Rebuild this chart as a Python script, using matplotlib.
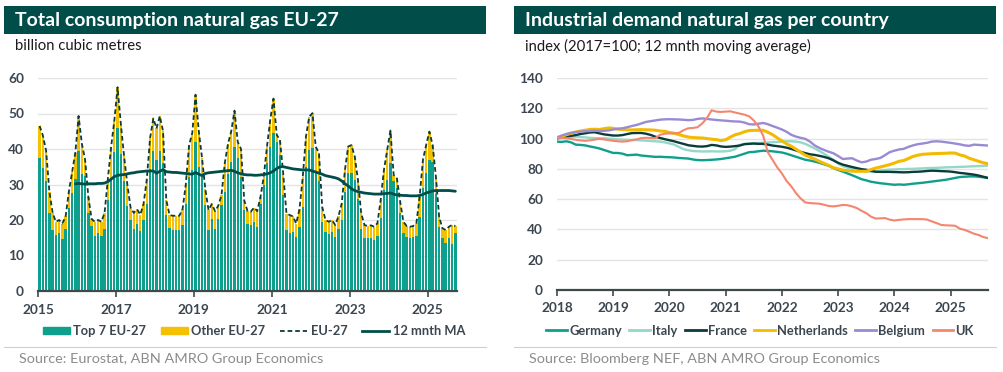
import numpy as np
import matplotlib.pyplot as plt
from matplotlib.patches import Rectangle, Patch
from matplotlib.lines import Line2D

plt.rcParams['font.family'] = ['Lato', 'DejaVu Sans']

# ---- left chart: monthly gas consumption EU-27, Jan 2015 - Sep 2025 (bcm)
eu27_total = [
    46.5, 43.8, 39.5, 28.0, 22.0, 19.5, 20.0, 19.0, 21.0, 28.0, 33.5, 39.0,   # 2015
    49.3, 41.5, 37.0, 26.5, 20.3, 19.5, 20.0, 19.5, 22.0, 31.5, 40.5, 48.0,   # 2016
    57.4, 47.0, 38.0, 30.0, 23.5, 22.0, 23.0, 21.5, 24.5, 31.5, 43.0, 48.6,   # 2017
    45.8, 49.3, 45.0, 25.6, 21.4, 21.2, 21.2, 21.2, 23.0, 30.0, 41.0, 44.5,   # 2018
    55.3, 45.0, 37.5, 28.8, 22.8, 24.5, 22.5, 24.0, 27.0, 36.0, 41.5, 45.0,   # 2019
    50.8, 42.0, 40.0, 25.5, 22.5, 22.3, 23.5, 22.5, 26.5, 32.2, 40.7, 48.2,   # 2020
    54.2, 44.0, 42.5, 33.0, 21.8, 21.4, 21.0, 19.0, 23.0, 32.0, 43.5, 49.1,   # 2021
    50.1, 40.7, 38.8, 23.7, 20.0, 19.5, 20.0, 18.6, 21.0, 24.6, 34.1, 40.7,   # 2022
    41.1, 37.9, 31.3, 21.9, 18.6, 18.3, 18.5, 18.1, 19.1, 25.6, 34.1, 39.7,   # 2023
    45.2, 32.7, 31.7, 25.2, 19.5, 18.3, 18.1, 18.3, 19.1, 26.6, 36.9, 41.1,   # 2024
    44.9, 41.1, 32.2, 20.9, 17.7, 17.2, 18.1, 18.6, 18.3,                     # 2025
]
top7 = [
    37.4, 34.6, 31.0, 22.0, 17.2, 15.8, 16.2, 14.6, 17.4, 23.5, 27.5, 31.5,
    39.4, 33.0, 32.5, 22.0, 18.2, 15.6, 16.2, 15.6, 17.5, 25.6, 31.5, 39.2,
    46.0, 38.5, 31.0, 24.0, 20.0, 17.5, 19.0, 17.0, 20.0, 24.5, 34.5, 39.5,
    37.0, 39.5, 36.0, 21.5, 17.8, 17.2, 17.2, 17.2, 18.5, 24.5, 32.2, 34.1,
    42.0, 35.0, 32.0, 24.2, 17.3, 20.2, 17.6, 20.2, 24.2, 28.0, 33.0, 36.4,
    40.5, 37.4, 32.2, 22.8, 19.0, 18.5, 19.5, 18.0, 24.5, 30.0, 36.0, 40.5,
    44.5, 42.0, 38.3, 27.0, 17.2, 16.3, 16.7, 15.3, 18.1, 23.7, 35.0, 39.7,
    40.2, 33.5, 31.0, 19.5, 16.5, 16.0, 16.5, 15.3, 17.5, 20.0, 28.0, 33.1,
    33.1, 31.3, 26.0, 17.5, 15.0, 14.8, 15.0, 14.5, 15.5, 20.5, 28.4, 31.3,
    36.0, 31.0, 29.0, 21.9, 16.3, 15.3, 14.8, 15.3, 15.5, 20.9, 28.9, 33.1,
    36.9, 36.4, 27.2, 18.1, 14.8, 13.4, 14.8, 13.2, 16.3,
]
# 12 month moving average, Dec 2015 - Sep 2025
ma12 = [
    30.2, 30.3, 30.2, 30.1, 30.2, 30.2, 30.2, 30.3, 30.3, 30.4, 30.8, 31.5, 32.2,
    32.6, 32.7, 32.8, 33.0, 33.2, 33.3, 33.5, 33.6, 33.7, 33.8, 33.8, 33.8,
    33.2, 33.7, 34.2, 33.6, 33.5, 33.4, 33.4, 33.3, 33.2, 33.1, 33.0, 32.9,
    33.4, 32.9, 32.5, 33.1, 33.3, 33.4, 33.5, 33.6, 33.7, 33.8, 33.9, 34.0,
    33.7, 33.3, 33.0, 32.8, 32.7, 32.7, 32.6, 32.6, 32.7, 32.8, 33.0, 33.3,
    33.8, 34.5, 35.0, 35.0, 34.8, 34.6, 34.4, 34.3, 34.2, 34.1, 34.1, 34.1,
    33.8, 33.5, 33.2, 32.9, 32.5, 32.3, 32.1, 31.9, 31.6, 31.0, 30.2, 29.6,
    28.8, 28.3, 28.0, 27.8, 27.6, 27.5, 27.4, 27.3, 27.3, 27.3, 27.4, 27.5,
    27.6, 27.3, 27.0, 27.0, 26.9, 26.9, 26.8, 26.8, 26.8, 26.9, 27.2, 27.6,
    27.9, 28.2, 28.3, 28.3, 28.3, 28.3, 28.3, 28.2, 28.1,
]
left_years = ['2015', '2017', '2019', '2021', '2023', '2025']

# ---- right chart: industrial demand index, Jan 2018 - Sep 2025
countries = ['Germany', 'Italy', 'France', 'Netherlands', 'Belgium', 'UK']
germany = [
    98.0, 97.8, 98.2, 97.5, 96.0, 95.8, 95.5, 94.8, 94.2, 93.5, 92.5, 91.5,
    90.5, 90.5, 90.0, 89.0, 89.2, 89.4, 88.8, 88.5, 88.2, 87.9, 88.0, 87.8,
    87.7, 87.5, 87.2, 87.0, 86.8, 86.2, 85.8, 85.7, 85.8, 86.0, 86.2, 86.5,
    87.0, 87.5, 88.0, 89.0, 90.0, 91.0, 91.2, 91.6, 92.0, 91.8, 91.6, 91.2,
    90.8, 90.0, 89.0, 88.0, 87.0, 86.0, 85.5, 84.8, 84.0, 83.0, 82.0, 80.5,
    79.3, 78.2, 77.0, 75.8, 74.5, 73.2, 72.4, 71.5, 71.0, 70.5, 70.2, 69.8,
    69.5, 69.7, 69.5, 69.8, 70.2, 70.5, 70.8, 71.2, 71.6, 72.0, 72.4, 72.8,
    73.4, 74.0, 74.6, 74.8, 75.0, 75.0, 74.8, 74.4, 74.0,
]
italy = [
    100.0, 100.3, 100.8, 101.2, 101.3, 101.0, 100.8, 100.5, 100.3, 100.2, 100.2, 100.0,
    99.8, 99.5, 99.3, 99.2, 99.0, 99.0, 98.8, 98.6, 98.4, 98.2, 98.0, 97.5,
    96.8, 96.0, 94.5, 93.0, 92.3, 91.8, 91.6, 91.5, 91.5, 91.6, 91.5, 91.5,
    91.6, 92.0, 93.0, 95.8, 96.5, 96.8, 97.0, 97.1, 97.2, 97.4, 97.6, 97.8,
    98.0, 98.2, 98.2, 98.0, 97.5, 96.5, 95.0, 93.5, 91.8, 90.0, 88.0, 86.0,
    83.5, 81.8, 80.8, 80.0, 79.4, 78.8, 78.4, 78.0, 78.2, 78.8, 79.2, 79.5,
    79.6, 79.8, 79.8, 80.0, 80.0, 80.2, 80.3, 80.5, 80.6, 80.7, 80.8, 81.0,
    81.1, 81.2, 81.3, 81.4, 81.6, 81.7, 81.8, 82.0, 82.1,
]
france = [
    100.2, 100.8, 101.3, 101.8, 102.3, 103.0, 103.5, 104.0, 104.2, 103.5, 102.8, 102.4,
    102.0, 102.0, 102.3, 103.0, 103.6, 103.7, 103.7, 103.2, 102.4, 101.2, 100.4, 99.6,
    98.9, 98.2, 97.3, 96.5, 95.6, 95.2, 94.8, 94.7, 95.0, 95.8, 95.5, 94.8,
    94.5, 94.7, 95.0, 95.4, 96.3, 96.5, 96.7, 96.5, 96.5, 96.0, 95.4, 95.0,
    94.6, 94.0, 93.2, 92.2, 91.2, 90.4, 89.6, 89.2, 88.6, 87.9, 87.0, 85.6,
    84.0, 82.8, 82.0, 81.2, 80.5, 79.8, 79.4, 78.8, 78.1, 78.0, 78.0, 78.0,
    77.9, 77.8, 77.7, 77.8, 78.0, 78.1, 78.3, 78.6, 78.8, 78.7, 78.5, 78.4,
    78.2, 77.8, 77.3, 77.0, 76.6, 76.2, 75.6, 74.8, 74.0,
]
netherlands = [
    100.7, 101.5, 102.5, 103.5, 104.3, 105.0, 105.5, 106.0, 106.2, 106.0, 106.5, 107.0,
    106.8, 106.2, 106.0, 105.8, 105.7, 105.8, 105.9, 105.8, 105.7, 105.5, 105.0, 104.8,
    104.0, 103.5, 102.6, 101.8, 101.0, 100.7, 100.5, 100.4, 100.0, 99.6, 99.3, 98.7,
    99.2, 101.0, 102.5, 103.3, 104.5, 105.3, 105.4, 105.5, 105.5, 104.2, 102.6, 100.5,
    98.5, 96.5, 95.0, 93.0, 91.0, 89.0, 87.8, 86.5, 85.0, 83.6, 82.3, 80.8,
    80.0, 79.2, 78.8, 78.5, 78.4, 78.4, 78.4, 79.5, 80.5, 81.2, 82.0, 82.8,
    83.8, 85.0, 85.5, 86.8, 88.2, 89.0, 89.6, 89.8, 90.0, 90.1, 90.2, 90.3,
    90.5, 90.4, 89.2, 88.5, 87.0, 86.0, 85.0, 84.0, 83.4,
]
belgium = [
    100.6, 102.0, 103.0, 103.8, 104.3, 104.6, 104.8, 105.0, 105.2, 105.0, 105.1, 105.4,
    106.0, 106.5, 106.8, 107.5, 108.3, 109.0, 110.0, 111.0, 111.5, 112.0, 112.5, 112.7,
    112.8, 112.7, 112.6, 112.4, 112.2, 112.3, 113.0, 113.3, 113.0, 112.6, 112.3, 112.0,
    111.8, 111.5, 111.3, 111.2, 110.6, 109.5, 109.3, 109.8, 110.3, 109.5, 108.3, 107.2,
    106.0, 104.5, 102.5, 101.3, 100.5, 99.8, 98.0, 95.5, 93.8, 92.5, 91.3, 90.3,
    88.5, 86.5, 86.8, 87.0, 85.5, 84.3, 84.8, 86.0, 86.5, 87.2, 89.0, 91.0,
    92.0, 92.8, 93.2, 94.5, 95.5, 96.3, 96.7, 97.2, 98.0, 98.2, 98.0, 97.6,
    97.2, 96.7, 96.2, 95.5, 95.2, 96.0, 95.8, 95.6, 95.4,
]
uk = [
    100.7, 100.4, 100.2, 99.8, 99.2, 98.8, 98.5, 98.8, 99.3, 99.8, 99.5, 99.0,
    98.5, 98.2, 98.0, 98.2, 99.0, 99.5, 100.3, 100.5, 100.4, 100.3, 102.5, 103.2,
    103.4, 103.5, 103.7, 105.5, 106.8, 107.0, 107.5, 110.0, 113.5, 118.7, 117.8, 117.6,
    117.8, 118.0, 117.2, 116.5, 115.8, 114.7, 112.0, 108.0, 102.0, 91.0, 86.0, 81.0,
    77.0, 72.0, 68.5, 64.0, 60.5, 57.8, 57.4, 57.2, 57.0, 56.3, 55.5, 55.2,
    55.6, 56.2, 56.0, 55.2, 54.1, 52.3, 50.8, 48.5, 47.2, 47.3, 47.5, 46.5,
    45.9, 46.3, 46.6, 46.8, 46.8, 46.8, 46.8, 46.5, 45.3, 44.2, 43.0, 42.7,
    42.6, 42.4, 40.5, 39.7, 38.5, 37.2, 36.3, 35.0, 34.2,
]
right_years = ['2018', '2019', '2020', '2021', '2022', '2023', '2024', '2025']

DARK = '#004D4A'
TEAL = '#0FA08D'
YELLOW = '#F4C000'
AXIS_COL = '#3E4A4A'
TICK_COL = '#3B4650'
GRID_COL = '#E4E4E4'
series_colors = ['#0FA08D', '#93D8C9', '#0C3B39', '#F4BA00', '#9A8AD4', '#F3866F']
series_widths = [1.7, 1.7, 1.7, 2.2, 1.7, 1.5]

W, H = 1004, 372
fig = plt.figure(figsize=(W / 100, H / 100), dpi=100)


def fx(px):
    return px / W


def fy(py):
    return 1 - py / H


def panel_frame(x0, x1, title, subtitle, source):
    fig.add_artist(Rectangle((fx(x0), fy(34)), (x1 - x0) / W, 28 / H,
                             transform=fig.transFigure, color=DARK, lw=0))
    fig.text(fx(x0 + 11), fy(20.5), title, color='white', fontsize=14,
             fontweight='bold', va='center', ha='left')
    fig.text(fx(x0 + 11), fy(46), subtitle, color='#1a1a1a', fontsize=10.7,
             va='center', ha='left')
    fig.add_artist(Line2D([fx(x0), fx(x1)], [fy(347), fy(347)],
                          transform=fig.transFigure, color='#CFCFCF', lw=0.8))
    fig.text(fx(x0 + 15), fy(359), source, color='#8C8C8C', fontsize=10.4,
             va='center', ha='left')


def style_axes(ax):
    for s in ['top', 'right', 'left']:
        ax.spines[s].set_visible(False)
    ax.spines['bottom'].set_color(AXIS_COL)
    ax.spines['bottom'].set_linewidth(1.6)
    ax.yaxis.grid(True, color=GRID_COL, lw=1.0)
    ax.set_axisbelow(True)
    ax.tick_params(axis='y', length=0, pad=10, labelsize=9.8, labelcolor=TICK_COL)
    ax.tick_params(axis='x', length=4, width=1.2, color=AXIS_COL, pad=5,
                   labelsize=9.8, labelcolor=TICK_COL)
    for lab in ax.get_xticklabels() + ax.get_yticklabels():
        lab.set_fontweight('bold')


# ---------------- left panel
panel_frame(4, 486, 'Total consumption natural gas EU-27', 'billion cubic metres',
            'Source: Eurostat, ABN AMRO Group Economics')

ax1 = fig.add_axes([fx(38), fy(291), (457 - 38) / W, (291 - 78) / H])
n = len(eu27_total)
x = np.arange(n) + 0.5
tot = np.array(eu27_total)
t7 = np.array(top7)
ax1.bar(x, t7, width=0.72, color=TEAL, lw=0)
ax1.bar(x, tot - t7, bottom=t7, width=0.72, color=YELLOW, lw=0)
ax1.plot(x, tot, color='#0C3B39', lw=1.3, ls=(0, (2.6, 1.6)))
ax1.plot(x[11:], ma12, color=DARK, lw=2.0, solid_capstyle='round')
ax1.set_xlim(0, 129)
ax1.set_ylim(0, 60)
ax1.set_yticks(range(0, 61, 10))
ax1.set_xticks(np.arange(0, 121, 24))
ax1.set_xticklabels(left_years)
style_axes(ax1)

h_left = [Patch(color=TEAL), Patch(color=YELLOW),
          Line2D([], [], color='#0C3B39', lw=1.3, ls=(0, (2.6, 1.6))),
          Line2D([], [], color=DARK, lw=2.0)]
leg1 = fig.legend(h_left, ['Top 7 EU-27', 'Other EU-27', 'EU-27', '12 mnth MA'],
                  loc='center', bbox_to_anchor=(fx(254), fy(331)), ncol=4,
                  frameon=False, fontsize=9.3, handlelength=2.1, handleheight=0.45,
                  handletextpad=0.25, columnspacing=1.15)
for t in leg1.get_texts():
    t.set_color(TICK_COL)
    t.set_fontweight('bold')

# ---------------- right panel
panel_frame(514, 996, 'Industrial demand natural gas per country',
            'index (2017=100; 12 mnth moving average)',
            'Source: Bloomberg NEF, ABN AMRO Group Economics')

ax2 = fig.add_axes([fx(557), fy(290), (988 - 557) / W, (290 - 78) / H])
series = [germany, italy, france, netherlands, belgium, uk]
xm = np.arange(len(germany))
for name, vals, c, lw in zip(countries, series, series_colors, series_widths):
    ax2.plot(xm, vals, color=c, lw=lw, label=name)
ax2.set_xlim(0, 92)
ax2.set_ylim(0, 140)
ax2.set_yticks(range(0, 141, 20))
ax2.set_xticks(np.arange(0, 85, 12))
ax2.set_xticklabels(right_years)
style_axes(ax2)

h_right = [Line2D([], [], color=c, lw=2) for c in series_colors]
leg2 = fig.legend(h_right, countries, loc='center',
                  bbox_to_anchor=(fx(760), fy(331)), ncol=6, frameon=False,
                  fontsize=9.3, handlelength=1.6, handletextpad=0.15,
                  columnspacing=0.6)
for t in leg2.get_texts():
    t.set_color(TICK_COL)
    t.set_fontweight('bold')

fig.savefig('out.png', dpi=100)
